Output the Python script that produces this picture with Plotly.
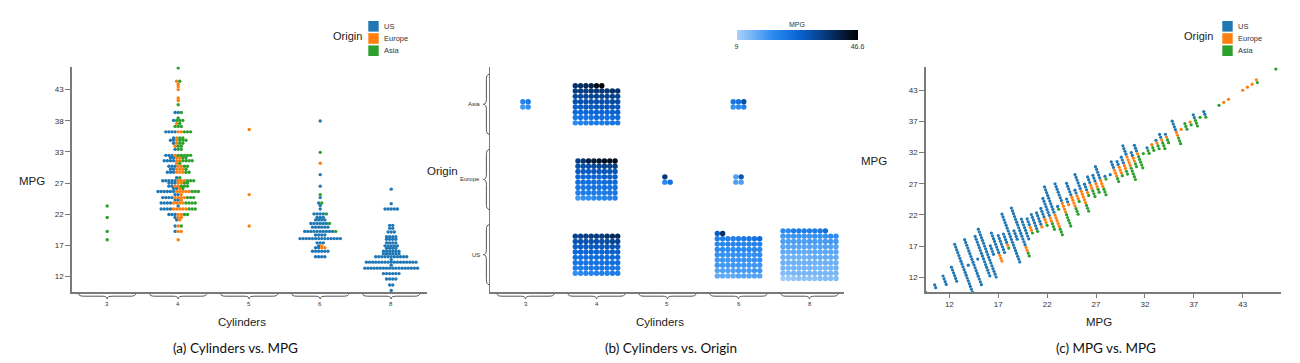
import math
import plotly.graph_objects as go

W, H = 1300, 363

ORIGINS = ["US", "Europe", "Asia"]
COLORS = {"US": "#1f77b4", "Europe": "#ff7f0e", "Asia": "#2ca02c"}
CYL_LABELS = ["3", "4", "5", "6", "8"]
ORIGIN_ROWS = ["US", "Europe", "Asia"]  # bottom to top in panel (b)
Y_TICK_TEXT_A = ["12", "17", "22", "27", "33", "38", "43"]
Y_TICK_TEXT_C = ["12", "17", "22", "27", "32", "37", "43"]
X_TICK_TEXT_C = ["12", "17", "22", "27", "32", "37", "43"]
MPG_MIN, MPG_MAX = 9, 46.6

# ---- data: MPG rows per cylinder with number of cars by origin ----
CYL3_MPG = [23.7, 21.8, 19.5, 18.1]
CYL3_US = [0, 0, 0, 0]
CYL3_EU = [0, 0, 0, 0]
CYL3_ASIA = [1, 1, 1, 1]

CYL4_MPG = [46.6, 44.4, 43.9, 43.5, 43.0, 41.6, 41.2, 40.5, 39.2, 38.3, 37.9,
            37.4, 36.9, 36.0, 35.0, 34.6, 34.1, 33.6, 33.1, 32.1, 31.7, 31.2,
            30.8, 30.3, 29.8, 29.3, 28.4, 27.9, 27.5, 27.0, 26.6, 26.1, 25.6,
            25.1, 24.7, 24.2, 23.7, 23.2, 22.3, 21.8, 21.4, 20.4, 19.5, 18.1]
CYL4_US = [0, 0, 0, 0, 0, 0, 0, 0, 2, 0, 1, 0, 0, 4, 1, 2, 1, 0, 1, 3, 2, 4,
           0, 3, 2, 3, 1, 5, 3, 2, 2, 6, 2, 4, 2, 4, 1, 4, 3, 1, 1, 1, 1, 0]
CYL4_EU = [0, 1, 1, 1, 1, 1, 1, 0, 0, 0, 0, 1, 0, 2, 1, 1, 1, 1, 0, 1, 2, 2,
           1, 2, 3, 3, 0, 3, 2, 2, 1, 5, 1, 4, 1, 4, 0, 5, 2, 2, 1, 1, 2, 1]
CYL4_ASIA = [1, 1, 0, 0, 0, 0, 0, 1, 1, 1, 3, 1, 3, 3, 2, 3, 2, 2, 2, 5, 2, 4,
             1, 2, 1, 2, 1, 3, 2, 3, 1, 3, 0, 3, 0, 4, 0, 3, 2, 0, 0, 1, 0, 0]

CYL5_MPG = [36.4, 25.6, 20.4]
CYL5_US = [0, 0, 0]
CYL5_EU = [1, 1, 1]
CYL5_ASIA = [0, 0, 0]

CYL6_MPG = [37.8, 32.6, 30.8, 28.9, 27.0, 25.6, 25.1, 24.2, 23.8, 23.2, 22.4,
            21.8, 21.4, 20.8, 20.2, 19.5, 18.9, 18.3, 17.6, 17.1, 16.8, 16.2, 15.3]
CYL6_US = [1, 0, 0, 1, 1, 0, 1, 1, 1, 1, 4, 3, 4, 6, 6, 10, 4, 14, 3, 1, 2, 6, 4]
CYL6_EU = [0, 0, 1, 0, 0, 0, 0, 0, 0, 0, 0, 0, 0, 0, 0, 0, 0, 0, 0, 1, 2, 0, 0]
CYL6_ASIA = [0, 1, 0, 0, 0, 1, 0, 1, 0, 0, 1, 0, 0, 1, 0, 1, 0, 0, 0, 0, 0, 0, 0]

CYL8_MPG = [26.5, 24.1, 23.2, 20.5, 20.0, 19.4, 18.6, 18.2, 17.6, 17.1, 16.7,
            16.2, 15.8, 15.3, 14.8, 14.4, 13.9, 13.4, 12.5, 11.6, 10.6, 9.7]
CYL8_US = [1, 1, 5, 2, 2, 3, 4, 4, 4, 5, 4, 6, 6, 11, 1, 17, 1, 18, 6, 4, 2, 1]
CYL8_EU = [0] * len(CYL8_MPG)
CYL8_ASIA = [0] * len(CYL8_MPG)

GROUPS = [
    (CYL3_MPG, CYL3_US, CYL3_EU, CYL3_ASIA),
    (CYL4_MPG, CYL4_US, CYL4_EU, CYL4_ASIA),
    (CYL5_MPG, CYL5_US, CYL5_EU, CYL5_ASIA),
    (CYL6_MPG, CYL6_US, CYL6_EU, CYL6_ASIA),
    (CYL8_MPG, CYL8_US, CYL8_EU, CYL8_ASIA),
]

# ---- expand to records (cyl index, origin, mpg) ----
records = []
for k, (mpgs, us, eu, asia) in enumerate(GROUPS):
    for i, v in enumerate(mpgs):
        for o, cnt in zip(ORIGINS, (us[i], eu[i], asia[i])):
            for _ in range(cnt):
                records.append((k, o, v))

# ---- geometry (pixels) ----
TOP, BOT = 66.7, 292.3
A_X0, A_X1 = 71.7, 426.7
B_X0, B_X1 = 490.0, 844.0
C_X0, C_X1 = 925.7, 1281.0
A_YR = [9.4, 46.8]
C_XR = [9.5, 47.05]
C_YR = [9.5, 46.9]
BAND = 71.0


def px(x):
    return x / W


def py(y):
    return 1 - y / H


def pt(x, y):
    return f"{px(x):.5f},{py(y):.5f}"


fig = go.Figure()

# ---- panel (a): beeswarm ----
a_pts = {o: ([], []) for o in ORIGINS}
DOT_A = 3.1
for k, (mpgs, us, eu, asia) in enumerate(GROUPS):
    cx = BAND / 2 + BAND * k
    for i, v in enumerate(mpgs):
        seq = ["US"] * us[i] + ["Europe"] * eu[i] + ["Asia"] * asia[i]
        n = len(seq)
        for j, o in enumerate(seq):
            a_pts[o][0].append(cx + (j - (n - 1) / 2) * DOT_A)
            a_pts[o][1].append(v)
for o in ORIGINS:
    fig.add_trace(go.Scatter(x=a_pts[o][0], y=a_pts[o][1], mode="markers",
                             marker=dict(size=3.4, color=COLORS[o], line=dict(width=0)),
                             xaxis="x", yaxis="y", name=o, hoverinfo="skip"))

# ---- panel (b): unit grids coloured by MPG ----
DOT_B = 5.3
BAND_Y = (BOT - TOP) / 3
bx, by, bc = [], [], []
for oi, o in enumerate(ORIGIN_ROWS):
    cy = BAND_Y / 2 + BAND_Y * oi
    for k in range(len(CYL_LABELS)):
        vals = sorted(r[2] for r in records if r[0] == k and r[1] == o)
        n = len(vals)
        if n == 0:
            continue
        cols = math.ceil(math.sqrt(n))
        rows = math.ceil(n / cols)
        cx = BAND / 2 + BAND * k
        for idx, v in enumerate(vals):
            r, c = divmod(idx, cols)
            bx.append(cx - (cols - 1) * DOT_B / 2 + c * DOT_B)
            by.append(cy - (rows - 1) * DOT_B / 2 + r * DOT_B)
            bc.append(v)

SCALE = [[0.0, "#a9d2fa"], [0.3, "#2a8af0"], [0.5, "#0b66d6"],
         [0.7, "#06408a"], [0.85, "#041f44"], [1.0, "#000000"]]
fig.add_trace(go.Scatter(
    x=bx, y=by, mode="markers", xaxis="x2", yaxis="y2", hoverinfo="skip",
    marker=dict(size=5.4, color=bc, colorscale=SCALE, cmin=MPG_MIN, cmax=MPG_MAX,
                line=dict(width=0), showscale=True,
                colorbar=dict(orientation="h", x=px(797), xanchor="center",
                              y=py(30.3), yanchor="top", len=120.6, lenmode="pixels",
                              thickness=10, thicknessmode="pixels", xpad=0, ypad=0,
                              outlinewidth=0, ticks="", tickvals=[MPG_MIN, MPG_MAX],
                              ticktext=["9", "46.6"],
                              tickfont=dict(size=7, color="#333", family="Arial")))))

# ---- panel (c): MPG vs MPG ----
pxu_x = (C_X1 - C_X0) / (C_XR[1] - C_XR[0])
pxu_y = (BOT - TOP) / (C_YR[1] - C_YR[0])
groups_c = {}
for k, o, v in records:
    key = round(v * 2) / 2
    groups_c.setdefault(key, []).append(o)
ux, uy = 0.35, 0.94
norm = math.hypot(ux, uy)
ux, uy = ux / norm, uy / norm
STEP_C = 3.0
c_pts = {o: ([], []) for o in ORIGINS}
for key, lst in groups_c.items():
    seq = [o for o in ORIGINS for q in lst if q == o]
    n = len(seq)
    for j, o in enumerate(seq):
        off = (j - (n - 1) / 2) * STEP_C
        c_pts[o][0].append(key + off * ux / pxu_x)
        c_pts[o][1].append(key - off * uy / pxu_y)
for o in ORIGINS:
    fig.add_trace(go.Scatter(x=c_pts[o][0], y=c_pts[o][1], mode="markers",
                             marker=dict(size=3.2, color=COLORS[o], line=dict(width=0)),
                             xaxis="x3", yaxis="y3", name=o, hoverinfo="skip"))

# ---- axes ----
AX = "#7a7a7a"
tickv = [12 + k * 31 / 6 for k in range(7)]
common = dict(showgrid=False, zeroline=False, showline=True, linecolor=AX,
              linewidth=1.5, fixedrange=True)
ydom = [py(BOT), py(TOP)]
fig.update_layout(
    xaxis=dict(domain=[px(A_X0), px(A_X1)], range=[0, A_X1 - A_X0], anchor="y",
               showticklabels=False, ticks="", **common),
    yaxis=dict(domain=ydom, range=A_YR, anchor="x", tickvals=tickv,
               ticktext=Y_TICK_TEXT_A, ticks="outside", ticklen=5, tickcolor=AX,
               tickfont=dict(size=8, color="#333", family="Arial"), **common),
    xaxis2=dict(domain=[px(B_X0), px(B_X1)], range=[0, B_X1 - B_X0], anchor="y2",
                showticklabels=False, ticks="", **common),
    yaxis2=dict(domain=ydom, range=[0, BOT - TOP], anchor="x2",
                showticklabels=False, ticks="", **common),
    xaxis3=dict(domain=[px(C_X0), px(C_X1)], range=C_XR, anchor="y3",
                tickvals=tickv, ticktext=X_TICK_TEXT_C, ticks="outside", ticklen=4,
                tickcolor=AX, tickfont=dict(size=8, color="#333", family="Arial"), **common),
    yaxis3=dict(domain=ydom, range=C_YR, anchor="x3", tickvals=tickv,
                ticktext=Y_TICK_TEXT_C, ticks="outside", ticklen=5, tickcolor=AX,
                tickfont=dict(size=8, color="#333", family="Arial"), **common),
)

shapes = []
annotations = []


def ann(text, x, y, size, xanchor="center", yanchor="middle", color="#222",
        family="Arial"):
    annotations.append(dict(text=text, x=px(x), y=py(y), xref="paper", yref="paper",
                             showarrow=False, xanchor=xanchor, yanchor=yanchor,
                             font=dict(size=size, color=color, family=family)))


def hbrace(x0, x1, yt=293.6, ym=296.2, yb=299.0, r=5.0):
    xc = (x0 + x1) / 2
    path = (f"M{pt(x0, yt)} Q{pt(x0, ym)} {pt(x0 + r, ym)} L{pt(xc - r, ym)} "
            f"Q{pt(xc, ym)} {pt(xc, yb)} Q{pt(xc, ym)} {pt(xc + r, ym)} "
            f"L{pt(x1 - r, ym)} Q{pt(x1, ym)} {pt(x1, yt)}")
    shapes.append(dict(type="path", path=path, xref="paper", yref="paper",
                       line=dict(color="#555", width=1)))


def vbrace(y0, y1, xe=489.3, xm=486.4, xt=483.4, r=5.0):
    yc = (y0 + y1) / 2
    path = (f"M{pt(xe, y0)} Q{pt(xm, y0)} {pt(xm, y0 + r)} L{pt(xm, yc - r)} "
            f"Q{pt(xm, yc)} {pt(xt, yc)} Q{pt(xm, yc)} {pt(xm, yc + r)} "
            f"L{pt(xm, y1 - r)} Q{pt(xm, y1)} {pt(xe, y1)}")
    shapes.append(dict(type="path", path=path, xref="paper", yref="paper",
                       line=dict(color="#555", width=1)))


# braces + category labels for panels a and b
for base in (A_X0, B_X0):
    for k, lab in enumerate(CYL_LABELS):
        cx = base + BAND / 2 + BAND * k
        hbrace(cx - 28.5, cx + 28.5)
        ann(lab, cx, 303.8, 6, color="#333")

for oi, o in enumerate(ORIGIN_ROWS):
    cy = BOT - (BAND_Y / 2 + BAND_Y * oi)
    vbrace(cy - 30, cy + 30)
    ann(o, 481.5, cy, 6, xanchor="right", color="#333")

# legends (panels a and c)
for lx, tx in ((368.3, 347.7), (1222.3, 1198.3)):
    for i, o in enumerate(ORIGINS):
        y0 = 21.0 + i * 12.2
        shapes.append(dict(type="rect", xref="paper", yref="paper",
                           x0=px(lx), x1=px(lx + 10.4), y0=py(y0), y1=py(y0 + 10.6),
                           fillcolor=COLORS[o], line=dict(width=0)))
        ann(o, lx + 13.5, y0 + 5.3, 7.5, xanchor="left", color="#333")
    ann("Origin", tx, 35.5, 11, color="#222")

# colourbar title
ann("MPG", 797, 24.0, 7, color="#333")

# axis titles
ann("MPG", 32, 180.7, 11.5)
ann("Cylinders", 241.7, 322, 11.5)
ann("Origin", 442, 171.5, 11.5)
ann("Cylinders", 660, 322, 11.5)
ann("MPG", 874, 161.3, 11.5)
ann("MPG", 1099.3, 322.3, 11.5)

# captions
CAP_FONT = "Lato"
ann("(a) Cylinders vs. MPG", 235, 347.7, 13.5, color="#111", family=CAP_FONT)
ann("(b) Cylinders vs. Origin", 670.7, 347.7, 13.5, color="#111", family=CAP_FONT)
ann("(c) MPG vs. MPG", 1106, 347.7, 13.5, color="#111", family=CAP_FONT)

fig.update_layout(width=W, height=H,
                  margin=dict(l=0, r=0, t=0, b=0, autoexpand=False),
                  paper_bgcolor="white", plot_bgcolor="white", showlegend=False,
                  shapes=shapes, annotations=annotations,
                  font=dict(family="Arial", color="#333"))

fig.write_html("out.html", config={"displayModeBar": False, "staticPlot": True},
               post_script="document.body.style.margin='0px';"
                           "document.body.style.overflow='hidden';")
